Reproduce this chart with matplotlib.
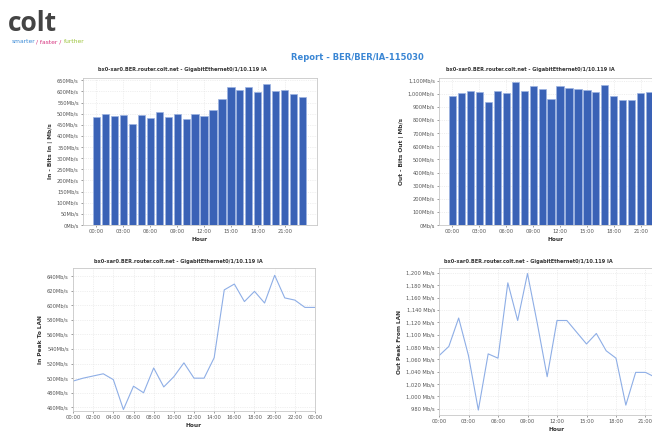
import matplotlib
matplotlib.use("Agg")
import matplotlib.pyplot as plt
from matplotlib.ticker import FuncFormatter, MultipleLocator

# hourly traffic
bar_hours = list(range(24))
bits_in = [485, 500, 490, 494, 452, 492, 480, 506, 485, 498, 478, 500,
           490, 518, 567, 619, 604, 619, 595, 634, 601, 607, 590, 575]
bits_out = [980, 1005, 1018, 1010, 939, 1018, 1005, 1087, 1018, 1056, 1036, 959,
            1056, 1041, 1036, 1026, 1015, 1069, 980, 951, 954, 1005, 1015, 946]

peak_in_hours = list(range(25))
peak_in = [496, 500, 503, 506, 498, 457, 489, 480, 514, 488, 502, 521, 500,
           500, 528, 621, 629, 605, 619, 603, 641, 610, 607, 597, 597]

peak_out_hours = list(range(23))
peak_out = [1066, 1081, 1127, 1066, 978, 1069, 1062, 1184, 1123, 1199, 1118, 1032,
            1123, 1123, 1104, 1085, 1102, 1074, 1062, 986, 1039, 1039, 1031]

chart_title = "bx0-xar0.BER.router.colt.net - GigabitEthernet0/1/10.119 IA"
report_title = "Report - BER/BER/IA-115030"

BAR = "#3a62b6"
BAR_EDGE = "#9db4e2"
LINE = "#8eaee6"
TICK = "#555555"

W, H = 652, 432
fig = plt.figure(figsize=(W / 100, H / 100), dpi=100)
fig.patch.set_facecolor("white")


def px_axes(left, top, width, height):
    return fig.add_axes([left / W, 1 - (top + height) / H, width / W, height / H])


def style(ax, ylabel):
    for s in ax.spines.values():
        s.set_color("#c8c8c8")
        s.set_linewidth(0.6)
    ax.tick_params(labelsize=3.7, colors=TICK, length=1.5, width=0.4, pad=1.5)
    ax.grid(True, color="#e2e2e2", linewidth=0.4, linestyle=(0, (2, 2)))
    ax.set_axisbelow(True)
    ax.set_ylabel(ylabel, fontsize=4.2, fontweight="bold", color="#333333", labelpad=3)
    ax.set_xlabel("Hour", fontsize=4.2, fontweight="bold", color="#333333", labelpad=2)


def mbps(comma=False, space=False):
    sep = " " if space else ""
    if comma:
        return FuncFormatter(lambda v, _: f"{v:,.0f}{sep}Mb/s")
    return FuncFormatter(lambda v, _: f"{v:.0f}{sep}Mb/s")


def hour_labels(step, last):
    ticks = list(range(0, last + 1, step))
    return ticks, [f"{t % 24:02d}:00" for t in ticks]


# header
fig.text(8 / W, 1 - 31 / H, "colt", fontsize=19, fontweight="bold",
         color="#444444", family="Open Sans")
tag_y = 1 - 43 / H
fig.text(12 / W, tag_y, "smarter", fontsize=4.3, color="#3a8ad6")
fig.text(36 / W, tag_y, "/ faster /", fontsize=4.3, color="#d6337f")
fig.text(64 / W, tag_y, "further", fontsize=4.3, color="#9cc43c")
fig.text(357 / W, 1 - 57 / H, report_title, fontsize=6, fontweight="bold",
         color="#3a86d4", ha="center", va="center")

# top left: bits in
ax1 = px_axes(83, 78, 234, 147)
ax1.bar(bar_hours, bits_in, width=0.8, color=BAR, edgecolor=BAR_EDGE, linewidth=0.5)
ax1.set_xlim(-1.5, 24.6)
ax1.set_ylim(0, 660)
ax1.yaxis.set_major_locator(MultipleLocator(50))
ax1.yaxis.set_major_formatter(mbps())
t, l = hour_labels(3, 21)
ax1.set_xticks(t, l)
style(ax1, "In - Bits In | Mb/s")
fig.text(182 / W, 1 - 69 / H, chart_title, fontsize=3.6, fontweight="bold",
         color="#333333", ha="center", va="center")

# top right: bits out (runs off the page edge)
ax2 = px_axes(439, 78, 234, 147)
ax2.bar(bar_hours, bits_out, width=0.8, color=BAR, edgecolor=BAR_EDGE, linewidth=0.5)
ax2.set_xlim(-1.5, 24.6)
ax2.set_ylim(0, 1120)
ax2.yaxis.set_major_locator(MultipleLocator(100))
ax2.yaxis.set_major_formatter(mbps(comma=True))
ax2.set_xticks(t, l)
style(ax2, "Out - Bits Out | Mb/s")
fig.text(530 / W, 1 - 69 / H, chart_title, fontsize=3.6, fontweight="bold",
         color="#333333", ha="center", va="center")

# bottom left: peak in
ax3 = px_axes(73, 268, 242, 143)
ax3.plot(peak_in_hours, peak_in, color=LINE, linewidth=0.8)
ax3.set_xlim(0, 24)
ax3.set_ylim(455, 651)
ax3.yaxis.set_major_locator(MultipleLocator(20))
ax3.yaxis.set_major_formatter(mbps())
t, l = hour_labels(2, 24)
ax3.set_xticks(t, l)
style(ax3, "In Peak To LAN")
fig.text(178 / W, 1 - 262 / H, chart_title, fontsize=3.6, fontweight="bold",
         color="#333333", ha="center", va="center")

# bottom right: peak out (runs off the page edge)
ax4 = px_axes(439, 268, 236, 147)
ax4.plot(peak_out_hours, peak_out, color=LINE, linewidth=0.8)
ax4.set_xlim(0, 24)
ax4.set_ylim(970, 1208)
ax4.yaxis.set_major_locator(MultipleLocator(20))
ax4.yaxis.set_major_formatter(mbps(comma=True, space=True))
t, l = hour_labels(3, 21)
ax4.set_xticks(t, l)
style(ax4, "Out Peak From LAN")
fig.text(528 / W, 1 - 262 / H, chart_title, fontsize=3.6, fontweight="bold",
         color="#333333", ha="center", va="center")

fig.savefig("out.png", dpi=100)
